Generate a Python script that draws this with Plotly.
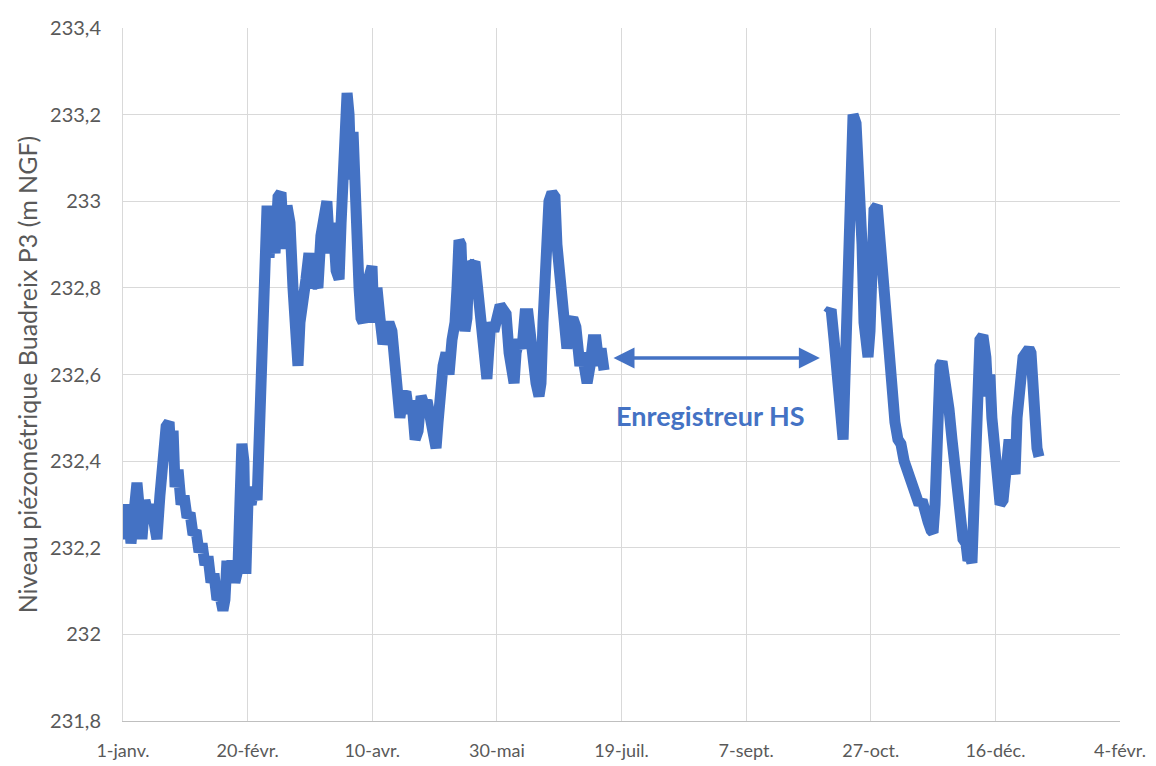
import pandas as pd
import plotly.graph_objects as go

# Day offsets from 1 Jan 2016 (None = gap where the logger was out of service)
days_seg1 = [0.0, 0.8, 2.0, 3.2, 4.4, 5.6, 6.4, 7.6, 8.8, 10.0, 11.2, 12.4, 13.6, 14.8, 16.0,
             17.3, 18.5, 19.3, 20.1, 20.9, 22.1, 23.3, 24.5, 25.7, 26.9, 28.1, 29.3, 30.5, 31.7,
             32.9, 34.1, 35.3, 36.5, 37.7, 38.9, 40.1, 40.9, 41.7, 42.5, 43.7, 44.9, 46.1, 46.9,
             47.7, 48.5, 49.3, 50.2, 51.4, 52.6, 53.8, 54.6, 55.4, 56.2, 57.0, 57.8, 58.6, 59.8,
             61.0, 62.2, 63.4, 64.6, 65.8, 67.0, 68.2, 69.4, 70.2, 71.0, 72.2, 73.4, 74.6, 75.8,
             77.0, 78.2, 79.4, 80.6, 81.8, 83.0, 84.3, 85.5, 86.7, 87.5, 88.3, 89.1, 89.9, 90.7,
             91.5, 92.3, 93.1, 93.9, 94.7, 95.5, 96.3, 97.5, 98.7, 99.9, 100.7, 101.9, 103.1,
             104.3, 105.5, 106.7, 107.9, 109.1, 110.3, 111.1, 112.3, 113.5, 114.7, 115.9, 117.2,
             118.4, 119.6, 120.8, 122.0, 123.2, 124.4, 125.6, 126.4, 127.2, 128.4, 129.6, 130.8,
             132.0, 133.2, 134.0, 134.8, 135.6, 136.4, 137.2, 138.0, 138.8, 140.0, 141.2, 142.4,
             143.6, 144.4, 145.2, 146.0, 146.8, 147.6, 148.8, 150.0, 151.3, 152.5, 153.7, 154.9,
             156.1, 156.9, 157.7, 158.9, 160.1, 161.3, 162.5, 163.7, 164.5, 165.7, 166.9, 167.7,
             168.5, 169.7, 170.9, 172.1, 173.3, 174.1, 174.9, 175.7, 176.5, 177.3, 178.1, 179.3,
             180.5, 181.7, 182.5, 183.3, 184.2, 185.4, 186.2, 187.4, 188.6, 189.8, 191.0, 191.8,
             193.0]
level_seg1 = [232.29, 232.22, 232.30, 232.21, 232.28, 232.35, 232.30, 232.22, 232.31, 232.28,
              232.30, 232.23, 232.22, 232.32, 232.40, 232.48, 232.49, 232.40, 232.47, 232.34,
              232.38, 232.30, 232.32, 232.27, 232.28, 232.23, 232.24, 232.19, 232.21, 232.16,
              232.18, 232.12, 232.14, 232.08, 232.09, 232.055, 232.08, 232.17, 232.12, 232.17,
              232.12, 232.15, 232.30, 232.44, 232.40, 232.14, 232.32, 232.30, 232.34, 232.31,
              232.45, 232.55, 232.70, 232.90, 232.99, 232.87, 232.97, 232.88, 233.01, 233.02,
              232.89, 232.99, 232.95, 232.80, 232.68, 232.62, 232.72, 232.80, 232.82, 232.88,
              232.80, 232.82, 232.80, 232.92, 232.96, 233.00, 232.88, 232.95, 232.84, 232.82,
              232.95, 233.10, 233.24, 233.25, 233.20, 233.05, 233.16, 232.95, 232.86, 232.80,
              232.73, 232.72, 232.80, 232.84, 232.85, 232.72, 232.80, 232.73, 232.67, 232.70,
              232.72, 232.70, 232.64, 232.55, 232.50, 232.55, 232.56, 232.51, 232.54, 232.45,
              232.47, 232.55, 232.53, 232.54, 232.49, 232.47, 232.43, 232.49, 232.60, 232.62,
              232.65, 232.60, 232.68, 232.72, 232.80, 232.91, 232.90, 232.78, 232.70, 232.73,
              232.86, 232.85, 232.86, 232.78, 232.76, 232.66, 232.60, 232.59, 232.66, 232.72,
              232.70, 232.74, 232.76, 232.75, 232.74, 232.65, 232.59, 232.58, 232.65, 232.68,
              232.66, 232.74, 232.74, 232.66, 232.62, 232.58, 232.55, 232.58, 232.72, 232.90,
              233.00, 233.02, 233.01, 232.90, 232.85, 232.82, 232.78, 232.68, 232.66, 232.72,
              232.73, 232.71, 232.66, 232.62, 232.65, 232.58, 232.58, 232.62, 232.68, 232.68,
              232.62, 232.66, 232.61]

days_seg2 = [282.8, 284.1, 285.3, 286.5, 287.7, 288.9, 289.7, 290.5, 291.3, 292.1, 292.9, 294.1,
             294.9, 295.7, 296.5, 297.3, 298.1, 298.9, 299.7, 300.5, 301.3, 302.6, 303.8, 305.0,
             306.2, 307.4, 308.5, 309.7, 310.9, 312.1, 313.4, 314.6, 315.8, 317.0, 318.2, 319.4,
             320.6, 321.8, 323.0, 324.2, 325.0, 325.8, 326.6, 327.8, 328.6, 329.4, 330.2, 331.4,
             332.6, 333.8, 335.0, 336.2, 337.0, 338.2, 339.0, 339.8, 340.6, 341.4, 342.2, 343.0,
             343.8, 345.0, 346.2, 347.0, 347.8, 348.6, 349.8, 351.0, 351.9, 353.1, 354.3, 355.5,
             356.7, 357.9, 358.7, 359.9, 361.1, 362.3, 363.5, 364.3, 365.1, 365.9, 366.7, 367.5]
level_seg2 = [232.74, 232.75, 232.68, 232.58, 232.50, 232.45, 232.60, 232.75, 232.95, 233.15,
              233.20, 233.18, 233.10, 233.08, 232.90, 232.72, 232.66, 232.64, 232.70, 232.86,
              232.98, 232.99, 232.90, 232.80, 232.70, 232.60, 232.52, 232.49, 232.45, 232.44,
              232.40, 232.38, 232.36, 232.35, 232.32, 232.30, 232.31, 232.27, 232.26, 232.24,
              232.235, 232.30, 232.50, 232.62, 232.63, 232.58, 232.53, 232.52, 232.45, 232.38,
              232.33, 232.28, 232.22, 232.21, 232.17, 232.18, 232.165, 232.30, 232.50, 232.65,
              232.68, 232.69, 232.64, 232.55, 232.60, 232.50, 232.42, 232.33, 232.30, 232.31,
              232.38, 232.45, 232.40, 232.37, 232.50, 232.60, 232.64, 232.65, 232.66, 232.65,
              232.55, 232.48, 232.43, 232.41]

start_date = "2016-01-01"
x_tick_dates = ["2016-01-01", "2016-02-20", "2016-04-10", "2016-05-30", "2016-07-19",
                "2016-09-07", "2016-10-27", "2016-12-16", "2017-02-04"]
x_tick_labels = ["1-janv.", "20-févr.", "10-avr.", "30-mai", "19-juil.", "7-sept.",
                 "27-oct.", "16-déc.", "4-févr."]
y_tick_vals = [231.8, 232.0, 232.2, 232.4, 232.6, 232.8, 233.0, 233.2, 233.4]
y_tick_labels = ["231,8", "232", "232,2", "232,4", "232,6", "232,8", "233", "233,2", "233,4"]

gap_start_day, gap_end_day, gap_level = 196.2, 279.6, 232.638
label_day, label_level = 235.7, 232.505

base = pd.Timestamp(start_date)
days_all = days_seg1 + [None] + days_seg2
levels_all = level_seg1 + [None] + level_seg2
dates_all = [base + pd.Timedelta(days=d) if d is not None else None for d in days_all]

blue = "#4472C4"
grey_txt = "#595959"
font_family = "Lato, 'Open Sans', sans-serif"

fig = go.Figure()
fig.add_trace(go.Scatter(x=dates_all, y=levels_all, mode="lines",
                         line=dict(color=blue, width=11), connectgaps=False,
                         showlegend=False, hoverinfo="skip"))

fig.add_annotation(x=base + pd.Timedelta(days=gap_end_day), y=gap_level,
                   ax=base + pd.Timedelta(days=gap_start_day), ay=gap_level,
                   xref="x", yref="y", axref="x", ayref="y",
                   showarrow=True, arrowhead=2, arrowside="end+start",
                   arrowsize=1.2, arrowwidth=3.5, arrowcolor=blue, text="",
                   standoff=0, startstandoff=0)
fig.add_annotation(x=base + pd.Timedelta(days=label_day), y=label_level,
                   xref="x", yref="y", showarrow=False,
                   text="<b>Enregistreur HS</b>",
                   font=dict(family=font_family, size=27, color=blue))

fig.update_layout(
    width=1156, height=766,
    margin=dict(l=123, r=36, t=28, b=45),
    paper_bgcolor="white", plot_bgcolor="white",
    font=dict(family=font_family, color=grey_txt),
)
fig.update_xaxes(type="date", range=[x_tick_dates[0], x_tick_dates[-1]],
                 tickmode="array", tickvals=x_tick_dates, ticktext=x_tick_labels,
                 tickfont=dict(size=18, color=grey_txt), ticklabelstandoff=13,
                 showgrid=True, gridcolor="#d9d9d9", gridwidth=1,
                 showline=True, linecolor="#bfbfbf", linewidth=1, mirror=False,
                 zeroline=False, automargin=False)
fig.update_yaxes(range=[y_tick_vals[0], y_tick_vals[-1]],
                 tickmode="array", tickvals=y_tick_vals, ticktext=y_tick_labels,
                 tickfont=dict(size=20, color=grey_txt), ticklabelstandoff=17,
                 showgrid=True, gridcolor="#d9d9d9", gridwidth=1,
                 showline=True, linecolor="#d9d9d9", linewidth=1,
                 zeroline=False, automargin=False,
                 title=dict(text="Niveau piézométrique Buadreix P3 (m NGF)",
                            font=dict(size=25, color=grey_txt), standoff=5))

fig.write_html("out.html", config={"displayModeBar": False},
               post_script="document.body.style.margin='0';document.body.style.padding='0';")
